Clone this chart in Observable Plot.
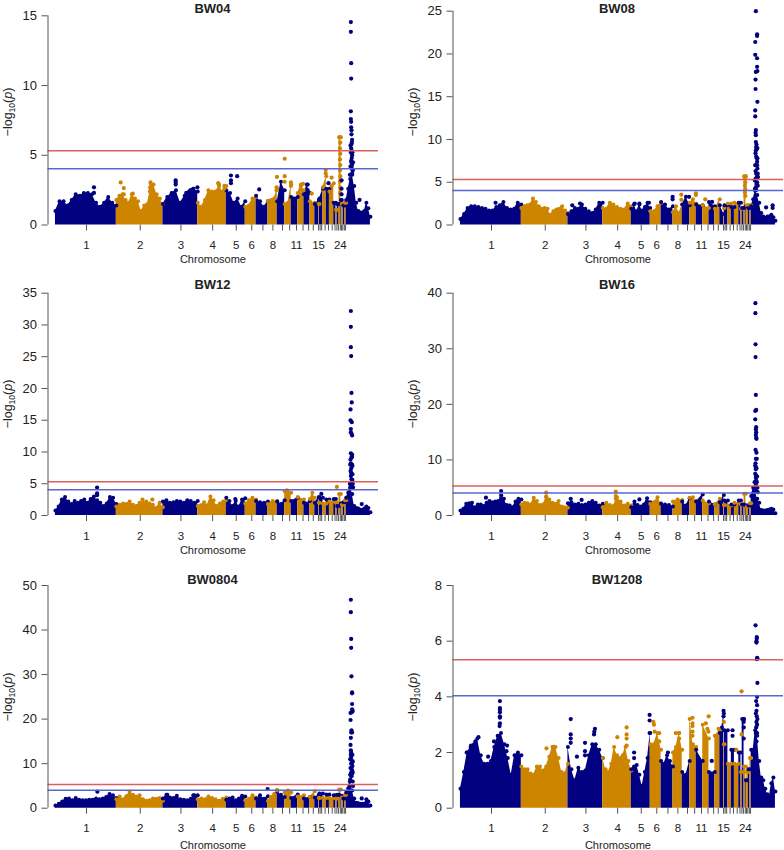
<!DOCTYPE html>
<html><head><meta charset="utf-8">
<script src="https://cdn.jsdelivr.net/npm/d3@7"></script>
<script src="https://cdn.jsdelivr.net/npm/@observablehq/plot@0.6"></script>
<style>
html,body{margin:0;padding:0;background:#fff}
#page{position:relative;width:784px;height:850px;overflow:hidden}
#page svg{position:absolute;font-family:"Liberation Sans",Arial,sans-serif}
</style></head><body><div id="page"></div>
<script>
// chromosome sizes (Mb), 1..28 and the last block
const chromLengths = [196,150,112,92,61,35,38,30,24,21,21,20,19,16,13,2,11,11,10,14,7,4,6,6,3,5,5,4,78];
const chromTicks = [100,273,404,506,582,632,668,700,731,754,776,797,815,830,847,852,857,868,879,891,900,906,911,917,921,925,930,934];
const tickNames = {0:"1",1:"2",2:"3",3:"4",4:"5",5:"6",7:"8",10:"11",14:"15",23:"24"};
const navy = "#000080", orange = "#CD8500";
const redLine = 5.33, blueLine = 4.04;

const bw04Env = [
[1.0,1.7,1.7,1.4,1.8,2.2,2.1,2.3,2.3,2.2,1.6,1.3,1.6,2.0,1.6,1.4],
[1.8,2.1,2.2,1.8,1.6,2.2,1.9,1.7,1.0,1.4,1.5,2.6,2.9,2.2,1.9,1.5],
[1.5,2.0,2.3,2.5,1.6,2.1,2.4,2.6,2.4],
[1.6,1.3,1.8,2.5,2.4,2.4,2.8,2.4,2.8],
[2.5,2.3,1.6,1.9,1.3,1.7],
[1.3,1.4,1.9,2.0],
[2.1,1.7,1.3,1.7],
[1.7,1.8,1.9,2.6],
[1.7,3.1,2.5],
[1.5,1.6,2.9],
[2.0,2.0],
[2.3,2.9,2.5],
[2.2,2.9,2.3],
[1.7,1.6],
[1.5,1.8],[1.5],[1.9,2.6],[2.7,3.5],[2.6],[2.4,3.0],[1.6],[1.1],[1.5],[6.3],[1.8],[1.5],[1.4],[1.6],
[1.8,2.6,3.3,3.6,2.8,1.6,1.0,0.9,0.9,1.0,1.6,1.2,0.6]];
const bw04Points = [[951,14.55],[951,13.85],[952,11.6],[952,10.5],[951,8.15],[951,7.6],[952,7.4],[952,7],[953,6.8],[953,6.5],[955,6.1],[953,5.8],[952,5.5],[954,5.3],[955,5],[954,4.8],[953,4.5],[955,4.3],[956,4],[955,3.7],
[948,3.6],[950,4.2],[952,4.6],[957,3.9],[958,4.5],[954,5.9],[956,5.2],[951,5.2],[950,5.7],
[916,6.3],[917,5.9],[916,5.5],[917,5.1],[916,4.7],[917,4.3],[916,3.9],[917,3.5],[916,3.1],[917,2.7],[916,2.3],
[124,2.7],[124,2.3],[210,3.05],[220,2.65],[220,2.2],[249,2.25],[306,3.05],[308,2.9],[305,2.7],[304,2.4],[387,3.2],[387,3.05],[387,2.9],[421,2.3],[435,2.5],[444,2.6],[457,2.7],[524,3],[526,2.9],[544,2.8],[544,2.6],[565,3.55],[565,3.2],[565,3],[585,3.5],[656,2.55],[713,3.45],[712,2.7],[712,2.5],[738,4.75],[738,3.5],[738,3.1],[758,3.05],[758,2.8],[790,2.8],[797,2.95],[812,2.9],[812,2.5],[825,2.25],[870,3.95],[870,3.7],[879,3],[889,3.4],[889,2.8],[921,3.2],[921,2.6],[921,2.2],[979,1.8]];

const bw08Env = [
[0.7,1.3,2.0,2.2,2.2,2.1,2.0,1.9,1.7,1.7,2.1,2.3,2.7,2.0,1.8,1.9,2.6,2.4],
[2.0,2.2,2.3,2.4,3.1,2.7,2.2,1.9,2.0,1.9,1.2,1.6,1.8,1.9,2.2,1.7,1.4],
[1.3,1.6,2.0,1.9,2.4,1.9,1.6,1.4,1.8,2.6,2.6],
[2.0,1.9,2.6,2.4,2.1,1.9,1.8,2.5,2.2],
[1.9,2.4,1.6,2.4,1.7,2.1,2.6,2.0],
[1.6,1.6,2.2,2.6],
[2.7,2.4,1.8,2.2],
[1.5,2.2,1.4,2.4],
[2.4,3.3,2.3],
[2.6,3.0,2.5],
[2.4,2.3],
[2.3,2.0],
[2.7,2.2],
[1.9,3.0],
[2.3,1.3],[2.0],[2.3],[2.5],[2.1],[2.6],[2.6],[1.9],[2.0],[5.7],[2.2],[2.3],[2.0],[2.3],
[2.2,3.0,4.0,3.5,2.6,1.4,1.0,0.8,1.0,1.0,1.2,0.9,0.5]];
const bw08Points = [[951,25],[955,22.3],[955,22.1],[949,21.4],[949,19.9],[955,19.5],[955,18.5],[956,18],[951,17.9],[950,17],[950,15.9],[956,14.4],[949,13.4],[949,12.7],[951,11.1],[950,10.8],[951,10.5],[951,9.7],[953,9.4],[952,9.1],[954,8.9],[951,8.7],[952,8],[954,7.8],[955,7.4],[955,7],[956,6.6],[950,6.3],[952,6],[954,5.6],[955,5],[953,4.8],[951,4.4],[952,4.1],
[948,5.2],[950,5.4],[958,5.6],[957,4.6],[948,4.2],[956,7.8],[950,8.4],[956,9],[957,6],[949,7],
[917,5.7],[916,5.4],[917,5],[916,4.6],[917,4.2],[916,3.8],[917,3.4],
[113,2.6],[360,2.3],[385,2.5],[561,2.5],[576,2.5],[607,2.6],[711,3.55],[711,2.95],[683,3.3],[683,3],[736,3.3],[758,3.7],[758,3.5],[788,3],[810,2.7],[984,2.05],[1005,2.3],[1005,2]];

const bw12Env = [
[0.8,1.4,2.5,2.9,2.2,1.8,2.3,2.0,2.3,2.5,2.0,2.6,3.0,2.4,2.0,1.5,1.9,2.9,2.8,1.8],
[1.4,1.7,1.9,1.8,2.2,1.7,1.5,2.0,2.0,2.2,1.9,1.7,1.2,2.0,1.3],
[2.2,2.4,2.0,2.1,2.3,2.2,2.0,2.4,2.3,2.0,2.3],
[1.5,1.6,2.1,1.6,3.0,2.4,1.5,1.9,2.2,2.4],
[2.8,2.3,1.5,2.3,1.4,2.5,2.7],
[1.9,2.4,2.8,2.5],
[2.3,2.1,2.0,2.2],
[1.8,2.3,2.3],
[2.2,1.8,2.4],
[3.8,3.7,3.6],
[2.3,2.8],
[2.9,2.5],
[2.0,1.9,2.3],
[2.6,3.6,2.8],
[2.0,2.9],[2.0],[2.8],[1.9],[2.5],[2.2],[2.6],[2.0],[1.5],[3.4],[1.9],[1.7],[2.1],[2.4],
[2.8,3.6,5.0,3.4,1.5,1.2,1.1,0.9,0.9,1.1,1.4,1.2,0.5]];
const bw12Points = [[951,32.2],[951,29.7],[951,26.5],[952,25.1],[953,19.3],[954,17.8],[950,16.7],[950,15],[954,14.7],[951,13.6],[951,13.1],[953,12.9],[955,12.6],[951,9.8],[955,9.6],[953,9.2],[950,8.8],[951,8.2],[955,8],[952,7.4],[952,6.7],[951,6.2],[953,5.7],[954,5.2],[950,4.9],[955,4.6],
[948,5],[957,5],[949,4.4],[958,4.4],[956,5.6],[956,6.5],[950,7],[956,7.8],[949,8],[955,9.2],
[986,1.8],[134,4.4],[134,3.5],[134,3.2],[906,4.5],[856,3.4],[280,2.5],[312,2.5],[579,2.6],[745,3.95]];

const bw16Env = [
[0.9,1.2,2.1,2.2,2.3,1.5,2.0,2.0,1.7,2.3,2.6,2.4,2.5,2.6,3.1,3.0,1.9,1.8,1.5,2.5,3.0,2.9],
[2.0,2.3,2.2,2.0,3.2,2.6,1.9,2.0,3.3,2.9,2.3,2.1,2.6,1.6,1.5,1.4],
[2.2,2.4,2.0,2.1,1.9,2.0,2.3,2.6,2.3,1.8,2.1],
[1.5,2.3,1.9,1.7,3.3,2.5,1.8,2.1,1.8],
[1.5,2.5,1.9,1.6,2.0,3.1,2.4],
[2.1,2.4,3.3,2.2],
[2.1,2.0,1.9,1.6],
[2.5,2.9,2.8],
[2.5,1.8,3.1],
[3.2,3.3,2.6],
[2.5,3.8],
[2.7,2.2],
[2.5,2.0],
[2.0,3.0],
[2.4,3.7],[1.9],[2.7],[1.8],[2.0],[2.3],[2.7],[2.0],[2.0],[3.9],[1.8],[1.6],[1.8],[2.2],
[3.5,5.0,4.5,3.0,2.3,1.0,0.9,0.9,1.0,1.1,1.2,1.1,0.4]];
const bw16Points = [[949.5,38.2],[949.5,36.4],[950,30.8],[950,28.5],[951,21.7],[952,19],[949,18.8],[949,17.3],[952,15.9],[951,15.5],[952,15],[951,14.5],[952,14],[953,13.8],[950,11.8],[953,11.3],[951,10.2],[950,9.4],[951,8.7],[951,8.3],[952,7.2],[951,6.8],[952,6.3],[947,6],[951,5.5],[952,5],[951,4.5],
[948,5],[956,5],[947,4.4],[957,4.2],[954,6],[955,7],[949,7.5],[953,8.5],[949,9],[954,10.2],
[82,3.2],[131,4.4],[131,3.6],[276,4.1],[276,3.4],[355,3],[390,2.8],[500,4.3],[500,3.5],[500,3],[576,2.9]];

const bw0804Env = [
[0.6,1.0,1.5,2.1,2.2,1.8,2.3,1.9,1.8,1.8,1.9,1.9,2.2,2.0,2.2,2.5,3.2,2.9,2.3],
[2.0,2.6,2.0,2.7,3.7,3.0,2.6,2.9,2.0,1.7,1.8,2.2,2.1,2.3,1.7],
[2.2,3.0,2.4,2.3,2.8,2.0,1.9,1.8,2.1,2.9,2.9],
[2.0,2.2,2.0,2.6,2.3,2.0,1.7,2.1,2.4],
[1.9,2.2,2.4,1.8,2.2,2.8,2.6],
[1.8,2.1,2.9,2.4],
[2.2,2.9,2.1,2.7],
[1.6,2.5,3.2,4.1],
[3.7,3.0,2.5],
[3.5,4.0,3.5],
[2.3,3.1],
[2.6,2.9],
[2.2,2.5],
[2.5,3.8],
[2.4,3.0],[2.3],[3.3],[2.3],[3.1],[2.3],[2.9],[2.2],[3.0],[4.2],[2.8],[2.4],[2.2],[3.0],
[3.5,4.5,6.5,4.0,2.2,1.2,1.1,1.0,1.0,1.0,2.0,1.5,0.6]];
const bw0804Points = [[951,46.8],[951,44],[952,38],[952,36],[953,29.6],[955,26],[955,25.8],[955,23.4],[955,22.2],[957,21.8],[955,21.6],[950,21.4],[950,19.8],[953,17.5],[955,17],[952,17],[951,15.8],[950,14.2],[951,13],[952,12.5],[952,11.5],[953,10.8],[955,10.3],[952,10],[956,9.5],[953,9],[955,8.5],[952,8],[954,7.6],[953,7.2],
[948,6],[957,6],[949,7.5],[957,8],[950,9],[957,10.5],[949,11],[951,12],[947,5],[958,5],[956,12],
[986,2.2],[135,3.7],[683,4.3],[713,4],[444,2.9],[360,3]];

const bw1208Env = [
[0.7,1.3,2.0,2.2,2.3,2.5,1.9,1.6,1.6,1.7,2.2,2.6,2.7,2.3,1.8,1.2,1.9,2.0,1.9],
[1.5,1.4,1.4,1.25,1.2,1.5,1.5,1.35,1.5,1.85,2.2,2.2,1.8,1.3,1.25,1.6],
[2.2,1.4,1.0,1.45,1.3,1.35,1.9,2.3,2.3,2.1,1.8],
[1.8,1.4,1.3,1.6,2.2,1.9,1.8,1.9,2.2,1.7,1.35],
[1.4,1.5,1.55,1.2,0.8,1.3,1.8,2.7],
[2.3,2.3,2.7,2.1],
[1.7,1.6,1.9,1.7,1.5],
[2.0,2.2,2.7,2.1],
[1.3,1.2,1.7],
[3.2,2.3,2.2],
[2.1,1.7],
[3.0,2.5],
[1.3,1.3],
[2.6,2.8],
[2.7,2.9,3.4],[2.3],[2.8],[1.6],[2.1],[1.6],[2.0],[1.3],[3.2],[1.5],[1.0],[1.3],[1.4],[1.8],
[2.1,2.1,2.8,2.6,1.7,1.1,1.0,0.7,0.5,0.4,0.9,1.1,0.6]];
const bw1208Points = [[950,6.57],[954,6.15],[954,6.1],[953,6],[953,5.95],[955,5.4],[956,5.38],[954,5.35],[956,4.5],[955,4],[952,3.85],[955,3.7],[953,3.5],[954,3.3],[953,3.1],[952,2.9],[955,2.7],
[951,2.7],[953,2.4],[956,3.2],[955,3],[951,3.4],
[127,3.85],[127,3.6],[127,3.55],[127,3.45],[127,3.3],[127,3.25],[127,3.05],[126,2.95],[108,2.4],[58,2.55],[48,2.4],[34,2.25],[20,2],[150,2.25],[148,2.05],[89,1.85],[277,2.15],[299,2.2],[355,3.2],[355,2.65],[355,2.5],[355,2.35],[375,1.85],[401,2.35],[401,2.05],[401,1.9],[433,2.85],[431,2.75],[430,2.65],[505,2.55],[535,2.9],[535,2.65],[535,2.5],[535,2.25],[559,2],[559,1.8],[609,3.35],[609,3.15],[609,2.7],[621,3.1],[623,3],[640,2.7],[640,2.4],[625,2.75],[668,2],[693,2.7],[704,2.7],[704,2.5],[747,3.25],[747,3.05],[747,2.95],[747,2.75],[747,2.6],[790,3.05],[799,3.3],[795,2.85],[798,2.75],[809,1.7],[831,2.85],[847,3.5],[847,3.3],[848,3.1],[876,2.8],[876,2.6],[888,2.1],[905,4.2],[905,2.65],[912,3.2],[912,3.1],[912,2.9],[912,2.5]];

const panels = [
 {title:"BW04", env:bw04Env, pts:bw04Points, top:15, ticks:[0,5,10,15], left:0, mL:47.5, mR:14, svgTop:0, y0:224.5, yTop:15.3, titleY:12.5, labelX:8, labelY:112, chromDy:34.5},
 {title:"BW08", env:bw08Env, pts:bw08Points, top:25, ticks:[0,5,10,15,20,25], left:392, mL:60.5, mR:1, svgTop:0, y0:224.5, yTop:10.7, titleY:12.5, labelX:21, labelY:112, chromDy:34.5},
 {title:"BW12", env:bw12Env, pts:bw12Points, top:35, ticks:[0,5,10,15,20,25,30,35], left:0, mL:47.5, mR:14, svgTop:275, y0:240, yTop:17.7, titleY:13.5, labelX:8, labelY:129, chromDy:35},
 {title:"BW16", env:bw16Env, pts:bw16Points, top:40, ticks:[0,10,20,30,40], left:392, mL:60.5, mR:1, svgTop:275, y0:240, yTop:17.7, titleY:13.5, labelX:21, labelY:129, chromDy:35},
 {title:"BW0804", env:bw0804Env, pts:bw0804Points, top:50, ticks:[0,10,20,30,40,50], left:0, mL:47.5, mR:14, svgTop:570, y0:237.7, yTop:15, titleY:13.5, labelX:8, labelY:127, chromDy:37.5},
 {title:"BW1208", env:bw1208Env, pts:bw1208Points, top:8, ticks:[0,2,4,6,8], left:392, mL:60.5, mR:1, svgTop:570, y0:237.7, yTop:15, titleY:13.5, labelX:21, labelY:127, chromDy:37.5}
];

const edges = [0, ...chromLengths.map((_, i) => d3.sum(chromLengths.slice(0, i + 1)))];
const colorOf = i => (i % 2 === 0 ? navy : orange);
const chromAt = x => Math.max(0, d3.bisectRight(edges, x) - 1);

const page = document.getElementById("page");
for (const p of panels) {
  const rows = p.env.flatMap((vals, c) => {
    const a = edges[c], b = edges[c + 1];
    const v = vals.length === 1 ? [vals[0], vals[0]] : vals;
    return v.map((h, i) => ({x: a + (b - a) * i / (v.length - 1), y: h, c, color: colorOf(c)}));
  });
  const pts = p.pts.map(([x, y]) => ({x, y, color: colorOf(chromAt(x))}));
  const height = p.svgTop === 0 ? 275 : p.svgTop === 275 ? 295 : 280;
  const chart = Plot.plot({
    width: 392, height,
    marginLeft: p.mL, marginRight: p.mR, marginTop: p.yTop, marginBottom: height - p.y0,
    style: {fontFamily: '"Liberation Sans",Arial,sans-serif', background: "transparent", overflow: "visible"},
    x: {domain: [-24, 1040], axis: null},
    y: {domain: [0, p.top], axis: null},
    color: {type: "identity"},
    marks: [
      Plot.areaY(rows, {x: "x", y1: 0, y2: "y", z: "c", fill: "color"}),
      Plot.dot(rows, {x: "x", y: "y", r: 2, fill: "color"}),
      Plot.dot(pts, {x: "x", y: "y", r: 2.1, fill: "color"}),
      Plot.ruleY([redLine], {stroke: "#d9605c", strokeWidth: 1.5}),
      Plot.ruleY([blueLine], {stroke: "#5a66d2", strokeWidth: 1.5}),
      Plot.ruleX([-24], {y1: 0, y2: p.top, stroke: "#555", strokeWidth: 1}),
      Plot.axisY({ticks: p.ticks, tickSize: 6, tickPadding: 5, label: null, fontSize: 13, stroke: "#555", fill: "#222", tickFormat: d => String(d)}),
      Plot.axisX({ticks: chromTicks, tickSize: 6, tickPadding: 10, label: null, fontSize: 11.5, stroke: "#555", fill: "#222",
        tickFormat: d => { const i = chromTicks.indexOf(d); return tickNames[i] ?? ""; }}),
      Plot.text(["Chromosome"], {x: [507], frameAnchor: "bottom", dy: p.chromDy, fontSize: 11, fill: "#222", lineAnchor: "middle"})
    ]
  });
  chart.style.left = p.left + "px";
  chart.style.top = p.svgTop + "px";
  const sel = d3.select(chart);
  sel.append("text").attr("x", p.left ? 225 : 212.5).attr("y", p.titleY).attr("text-anchor", "middle")
    .attr("font-weight", "bold").attr("font-size", 13).attr("fill", "#222").text(p.title);
  const lab = sel.append("text").attr("transform", `translate(${p.labelX + 4},${p.labelY}) rotate(-90)`)
    .attr("text-anchor", "middle").attr("font-size", 12.5).attr("fill", "#222");
  lab.append("tspan").text("\u2212log");
  lab.append("tspan").attr("font-size", 8.5).attr("dy", 3).text("10");
  lab.append("tspan").attr("dy", -3).text("(");
  lab.append("tspan").attr("font-style", "italic").text("p");
  lab.append("tspan").text(")");
  page.appendChild(chart);
}
</script></body></html>
